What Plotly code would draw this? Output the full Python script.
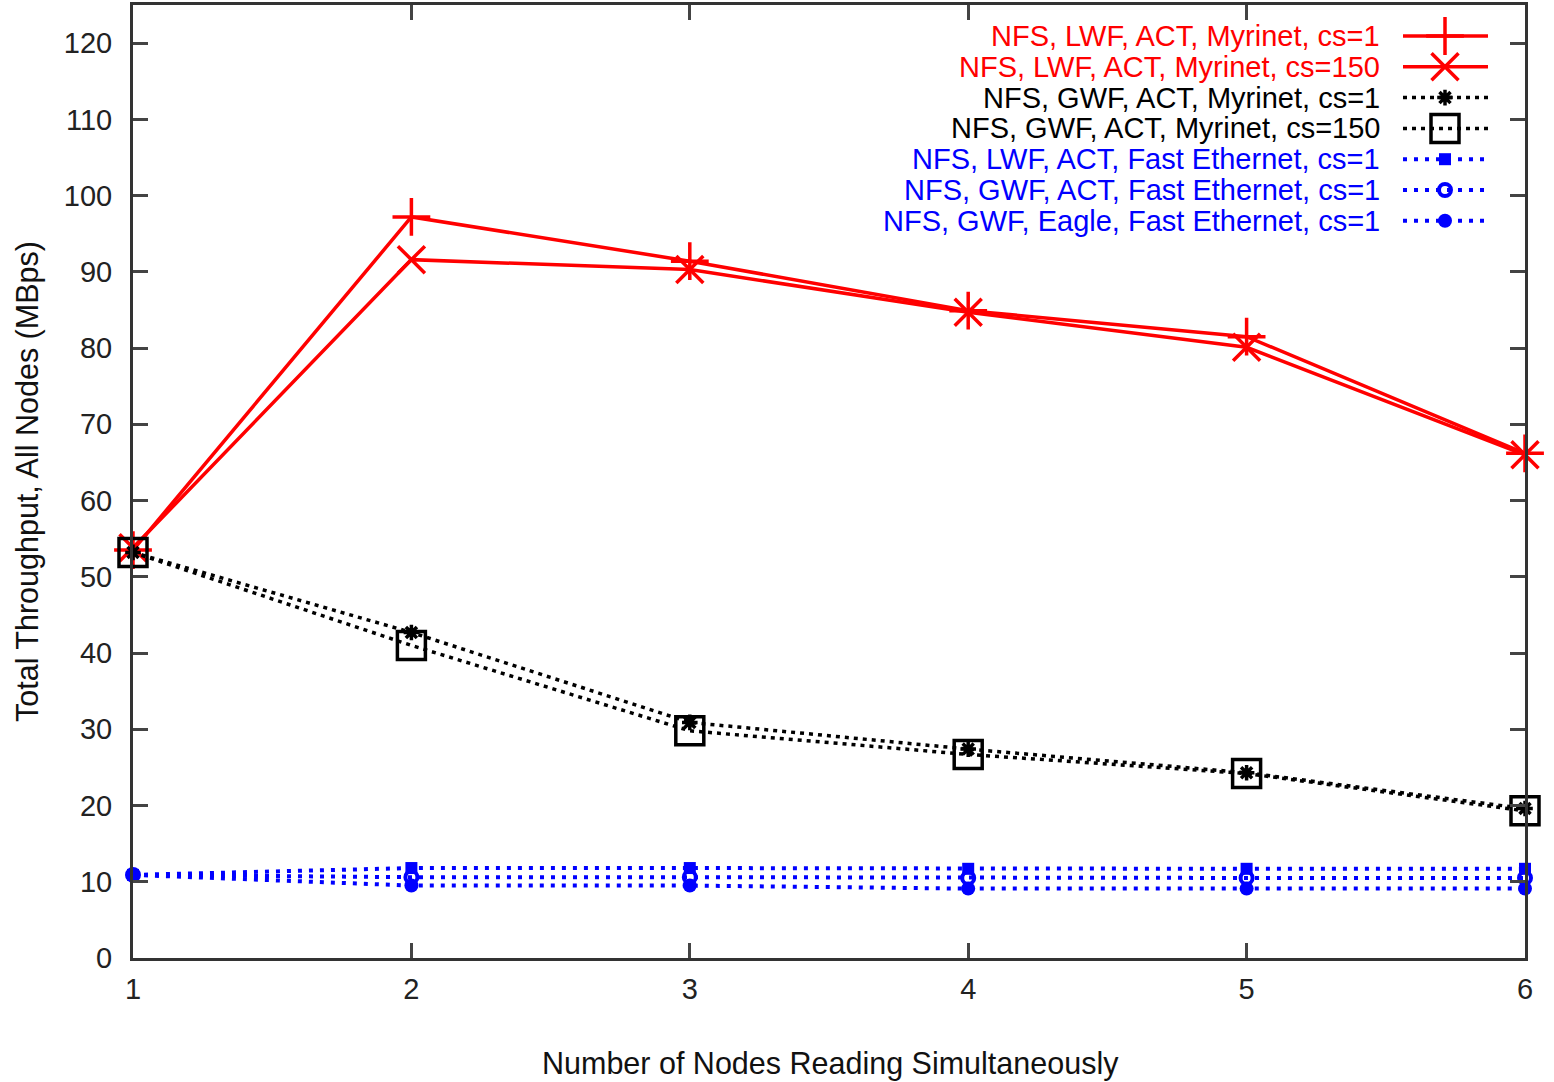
import plotly.graph_objects as go

# ---------------- data ----------------
nodes = [1, 2, 3, 4, 5, 6]

lwf_act_myr_cs1 = [53.5, 97.2, 91.4, 84.9, 81.5, 66.2]
lwf_act_myr_cs150 = [53.8, 91.6, 90.3, 84.7, 80.1, 66.0]
gwf_act_myr_cs1 = [53.2, 42.7, 30.9, 27.4, 24.3, 19.6]
gwf_act_myr_cs150 = [53.2, 41.0, 29.8, 26.7, 24.2, 19.3]
lwf_act_fe_cs1 = [10.9, 11.8, 11.8, 11.7, 11.7, 11.7]
gwf_act_fe_cs1 = [10.9, 10.6, 10.6, 10.5, 10.5, 10.5]
gwf_eagle_fe_cs1 = [10.9, 9.5, 9.5, 9.1, 9.1, 9.1]

names = [
    "NFS, LWF, ACT, Myrinet, cs=1",
    "NFS, LWF, ACT, Myrinet, cs=150",
    "NFS, GWF, ACT, Myrinet, cs=1",
    "NFS, GWF, ACT, Myrinet, cs=150",
    "NFS, LWF, ACT, Fast Ethernet, cs=1",
    "NFS, GWF, ACT, Fast Ethernet, cs=1",
    "NFS, GWF, Eagle, Fast Ethernet, cs=1",
]
series = [lwf_act_myr_cs1, lwf_act_myr_cs150, gwf_act_myr_cs1, gwf_act_myr_cs150,
          lwf_act_fe_cs1, gwf_act_fe_cs1, gwf_eagle_fe_cs1]

x_ticks = [1, 2, 3, 4, 5, 6]
y_ticks = [0, 10, 20, 30, 40, 50, 60, 70, 80, 90, 100, 110, 120]

# ---------------- styles ----------------
RED, BLACK, BLUE = "#ff0000", "#000000", "#0000ff"
styles = [
    dict(color=RED, dash="solid", lw=3.5, sym="cross-thin-open", size=27, mlw=3.5),
    dict(color=RED, dash="solid", lw=3.5, sym="x-thin-open", size=27, mlw=3.5),
    dict(color=BLACK, dash="4px,5px", lw=3.5, sym="asterisk-open", size=13, mlw=3.5),
    dict(color=BLACK, dash="4px,5px", lw=3.5, sym="square-open", size=28, mlw=3.5),
    dict(color=BLUE, dash="4px,7px", lw=4, sym="square", size=12, mlw=0),
    dict(color=BLUE, dash="4px,7px", lw=4, sym="circle-open", size=12, mlw=4),
    dict(color=BLUE, dash="4px,7px", lw=4, sym="circle", size=14, mlw=0),
]

FONT = "Liberation Sans, Arial, Helvetica, sans-serif"
FS = 30.5      # axis titles
LFS = 29       # legend entries
TFS = 29       # tick labels

fig = go.Figure()
for name, ys, st in zip(names, series, styles):
    fig.add_trace(go.Scatter(
        x=nodes, y=ys, mode="lines+markers", name=name, showlegend=False,
        line=dict(color=st["color"], width=st["lw"], dash=st["dash"]),
        marker=dict(symbol=st["sym"], size=st["size"], color=st["color"],
                    line=dict(color=st["color"], width=st["mlw"])),
        cliponaxis=False,
    ))

# ---------------- manual gnuplot-style legend (text right, key on the right) ----------------
W, H = 1554, 1082
ML, MR, MT, MB = 133, 29, 5, 124
PW, PH = W - ML - MR, H - MT - MB

def px_x(p):
    return (p - ML) / PW

def px_y(p):
    return (H - MB - p) / PH

row0, drow = 36, 30.8
text_right, key_l, key_r, key_m = 1381, 1403, 1488, 1445
for i, (name, st) in enumerate(zip(names, styles)):
    yp = px_y(row0 + i * drow)
    fig.add_annotation(x=px_x(text_right), y=yp, xref="paper", yref="paper",
                       text=name, showarrow=False, xanchor="right", yanchor="middle",
                       borderpad=0,
                       font=dict(family=FONT, size=LFS, color=st["color"]))
    fig.add_trace(go.Scatter(
        x=[px_x(key_l), px_x(key_m), px_x(key_r)], y=[yp, yp, yp],
        xaxis="x2", yaxis="y2", mode="lines", showlegend=False, hoverinfo="skip",
        line=dict(color=st["color"], width=st["lw"], dash=st["dash"]),
    ))
    fig.add_trace(go.Scatter(
        x=[px_x(key_m)], y=[yp], xaxis="x2", yaxis="y2", mode="markers",
        showlegend=False, hoverinfo="skip", cliponaxis=False,
        marker=dict(symbol=st["sym"], size=st["size"], color=st["color"],
                    line=dict(color=st["color"], width=st["mlw"])),
    ))

# axis titles
fig.add_annotation(x=px_x(830), y=px_y(1063), xref="paper", yref="paper",
                   text="Number of Nodes Reading Simultaneously", showarrow=False,
                   xanchor="center", yanchor="middle",
                   font=dict(family=FONT, size=FS, color="#111"))
fig.add_annotation(x=px_x(27), y=px_y(482), xref="paper", yref="paper",
                   text="Total Throughput, All Nodes (MBps)", showarrow=False,
                   textangle=-90, xanchor="center", yanchor="middle",
                   font=dict(family=FONT, size=FS, color="#111"))

axis_common = dict(showgrid=False, zeroline=False, showline=True, linecolor="#333",
                   linewidth=3, mirror="ticks", ticks="inside", ticklen=15, tickwidth=2.5,
                   tickcolor="#444", tickfont=dict(family=FONT, size=TFS, color="#222"))

fig.update_layout(
    width=W, height=H,
    margin=dict(l=ML, r=MR, t=MT, b=MB, autoexpand=False),
    paper_bgcolor="white", plot_bgcolor="white",
    showlegend=False,
    xaxis=dict(range=[1, 6], tickvals=x_ticks, ticktext=[str(v) for v in x_ticks],
               ticklabelstandoff=3, **axis_common),
    yaxis=dict(range=[0, 125], tickvals=y_ticks, ticktext=[str(v) for v in y_ticks],
               ticklabelstandoff=12, **axis_common),
    xaxis2=dict(overlaying="x", range=[0, 1], visible=False, fixedrange=True),
    yaxis2=dict(overlaying="y", range=[0, 1], visible=False, fixedrange=True),
)

fig.write_html("out.html")
